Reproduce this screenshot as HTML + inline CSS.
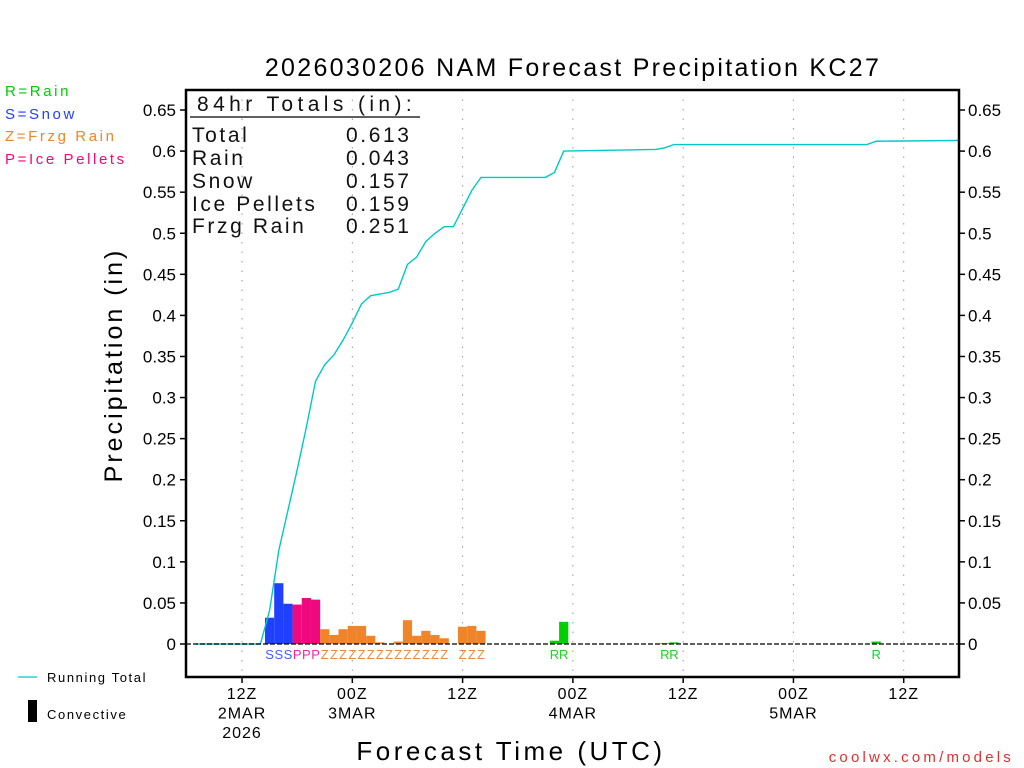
<!DOCTYPE html>
<html><head><meta charset="utf-8"><style>
body{margin:0;background:#fff;}
svg{display:block;font-family:"Liberation Sans","DejaVu Sans",sans-serif;}
</style></head><body>
<svg id="chart" width="1024" height="768" viewBox="0 0 1024 768" xmlns="http://www.w3.org/2000/svg">
<rect width="1024" height="768" fill="#fff"/>
<text x="573" y="76" font-size="25" text-anchor="middle" letter-spacing="2.3">2026030206 NAM Forecast Precipitation KC27</text>
<g font-size="15" letter-spacing="2.6">
<text x="5" y="96" fill="#00cc00">R=Rain</text>
<text x="5" y="119" fill="#2040ff">S=Snow</text>
<text x="5" y="141" fill="#f08428">Z=Frzg Rain</text>
<text x="5" y="164" fill="#f0087e">P=Ice Pellets</text>
</g>
<text transform="translate(122,365) rotate(-90)" font-size="25" text-anchor="middle" letter-spacing="3">Precipitation (in)</text>
<text x="511" y="760" font-size="26" text-anchor="middle" letter-spacing="3.5">Forecast Time (UTC)</text>
<text x="1014" y="762" font-size="15" text-anchor="end" fill="#e03030" letter-spacing="3.2">coolwx.com/models</text>
<g>
<line x1="18" y1="677" x2="37" y2="677" stroke="#00c8c8" stroke-width="1.2"/>
<text x="47" y="682" font-size="13" letter-spacing="1.6">Running Total</text>
<rect x="28" y="700" width="9" height="22" fill="#000"/>
<text x="47" y="719" font-size="13" letter-spacing="1.6">Convective</text>
</g>
<g id="grid"></g>
<g id="bars"></g>
<g id="lbls"></g>
<g id="line"></g>
<g id="axes"></g>
<g font-size="21" letter-spacing="2.6" fill="#111">
<text x="197" y="111" letter-spacing="4.4">84hr Totals (in):</text>
<line x1="190" y1="117" x2="420" y2="117" stroke="#000" stroke-width="1.2"/>
<text x="192" y="142">Total</text><text x="346" y="142">0.613</text>
<text x="192" y="165">Rain</text><text x="346" y="165">0.043</text>
<text x="192" y="188">Snow</text><text x="346" y="188">0.157</text>
<text x="192" y="211">Ice Pellets</text><text x="346" y="211">0.159</text>
<text x="192" y="233">Frzg Rain</text><text x="346" y="233">0.251</text>
</g>
</svg>
<script>
const barHours=[9,10,11,12,13,14,15,16,17,18,19,20,21,22,23,24,25,26,27,28,30,31,32,40,41,52,53,75];
const barValues=[0.032,0.074,0.049,0.048,0.056,0.054,0.018,0.011,0.018,0.022,0.022,0.010,0.002,0,0.003,0.029,0.010,0.016,0.011,0.007,0.021,0.022,0.016,0.004,0.027,0.001,0.002,0.003];
const barTypes=["S","S","S","P","P","P","Z","Z","Z","Z","Z","Z","Z","Z","Z","Z","Z","Z","Z","Z","Z","Z","Z","R","R","R","R","R"];
const cumHours=[1,8,9,10,11,12,13,14,15,16,17,18,19,20,21,22,23,24,25,26,27,28,29,30,31,32,39,40,41,51,52,53,74,75,84];
const cumValues=[0,0,0.041,0.114,0.163,0.212,0.264,0.32,0.34,0.352,0.37,0.391,0.414,0.424,0.426,0.428,0.432,0.462,0.471,0.49,0.50,0.508,0.508,0.530,0.552,0.568,0.568,0.574,0.600,0.602,0.604,0.608,0.608,0.612,0.613];
const yTicks=[0,0.05,0.1,0.15,0.2,0.25,0.3,0.35,0.4,0.45,0.5,0.55,0.6,0.65];
const xTickHours=[6,18,30,42,54,66,78];
const xTickLabels=[["12Z","2MAR","2026"],["00Z","3MAR"],["12Z"],["00Z","4MAR"],["12Z"],["00Z","5MAR"],["12Z"]];
const typeColors={S:"#2040ff",P:"#f0087e",Z:"#f08428",R:"#00d000"};
const labelColors={S:"#4060ff",P:"#f0289e",Z:"#f08838",R:"#20d020"};

const L=186,R=959,T=90,B=677;
const xs=h=>186.9+h*9.19;
const ys=v=>644-v*821.5;
const NS="http://www.w3.org/2000/svg";
function mk(p,tag,at){const e=document.createElementNS(NS,tag);for(const k in at)e.setAttribute(k,at[k]);p.appendChild(e);return e;}
const grid=document.getElementById('grid'),bars=document.getElementById('bars'),lbls=document.getElementById('lbls'),line=document.getElementById('line'),axes=document.getElementById('axes');
xTickHours.forEach((h,i)=>{
  const g=mk(grid,'line',{x1:xs(h),x2:xs(h),y1:T,y2:B,stroke:'#999','stroke-width':1,'stroke-dasharray':'1.5,8'});
  
  
  mk(axes,'line',{x1:xs(h),x2:xs(h),y1:B,y2:B+6,stroke:'#000','stroke-width':1.5});
  xTickLabels[i].forEach((s,j)=>{
    const t=mk(axes,'text',{x:xs(h),y:699+j*19.5,'font-size':16,'text-anchor':'middle','letter-spacing':1});
    t.textContent=s;
    
    
  });
});
barHours.forEach((h,i)=>{
  const v=barValues[i];
  const r=mk(bars,'rect',{x:xs(h)-4.6,width:9.2,y:ys(v),height:Math.max(0,ys(0)-ys(v)),fill:typeColors[barTypes[i]]});
  
  
  const t=mk(lbls,'text',{x:xs(h),y:659,'font-size':13,'text-anchor':'middle',fill:labelColors[barTypes[i]]});
  t.textContent=barTypes[i];
  
  
});
mk(axes,'line',{x1:L,x2:R,y1:644,y2:644,stroke:'#000','stroke-width':1.3,'stroke-dasharray':'5,2'});
const pl=mk(line,'polyline',{points:cumHours.map((h,i)=>xs(h)+','+ys(cumValues[i])).join(' '),fill:'none',stroke:'#00c8c8','stroke-width':1.4});


const box=mk(axes,'rect',{x:L,y:T,width:R-L,height:B-T,fill:'none',stroke:'#000','stroke-width':2.5});


yTicks.forEach(v=>{
  const y=ys(v);
  mk(axes,'line',{x1:L-6,x2:L,y1:y,y2:y,stroke:'#000','stroke-width':1.5});
  mk(axes,'line',{x1:R,x2:R+6,y1:y,y2:y,stroke:'#000','stroke-width':1.5});
  const s=String(+v.toFixed(2));
  const a=mk(axes,'text',{x:176,y:y+6,'font-size':17,'text-anchor':'end'});a.textContent=s;
  
  
  const b=mk(axes,'text',{x:968,y:y+6,'font-size':17});b.textContent=s;
  
  
});
</script>
</body></html>
